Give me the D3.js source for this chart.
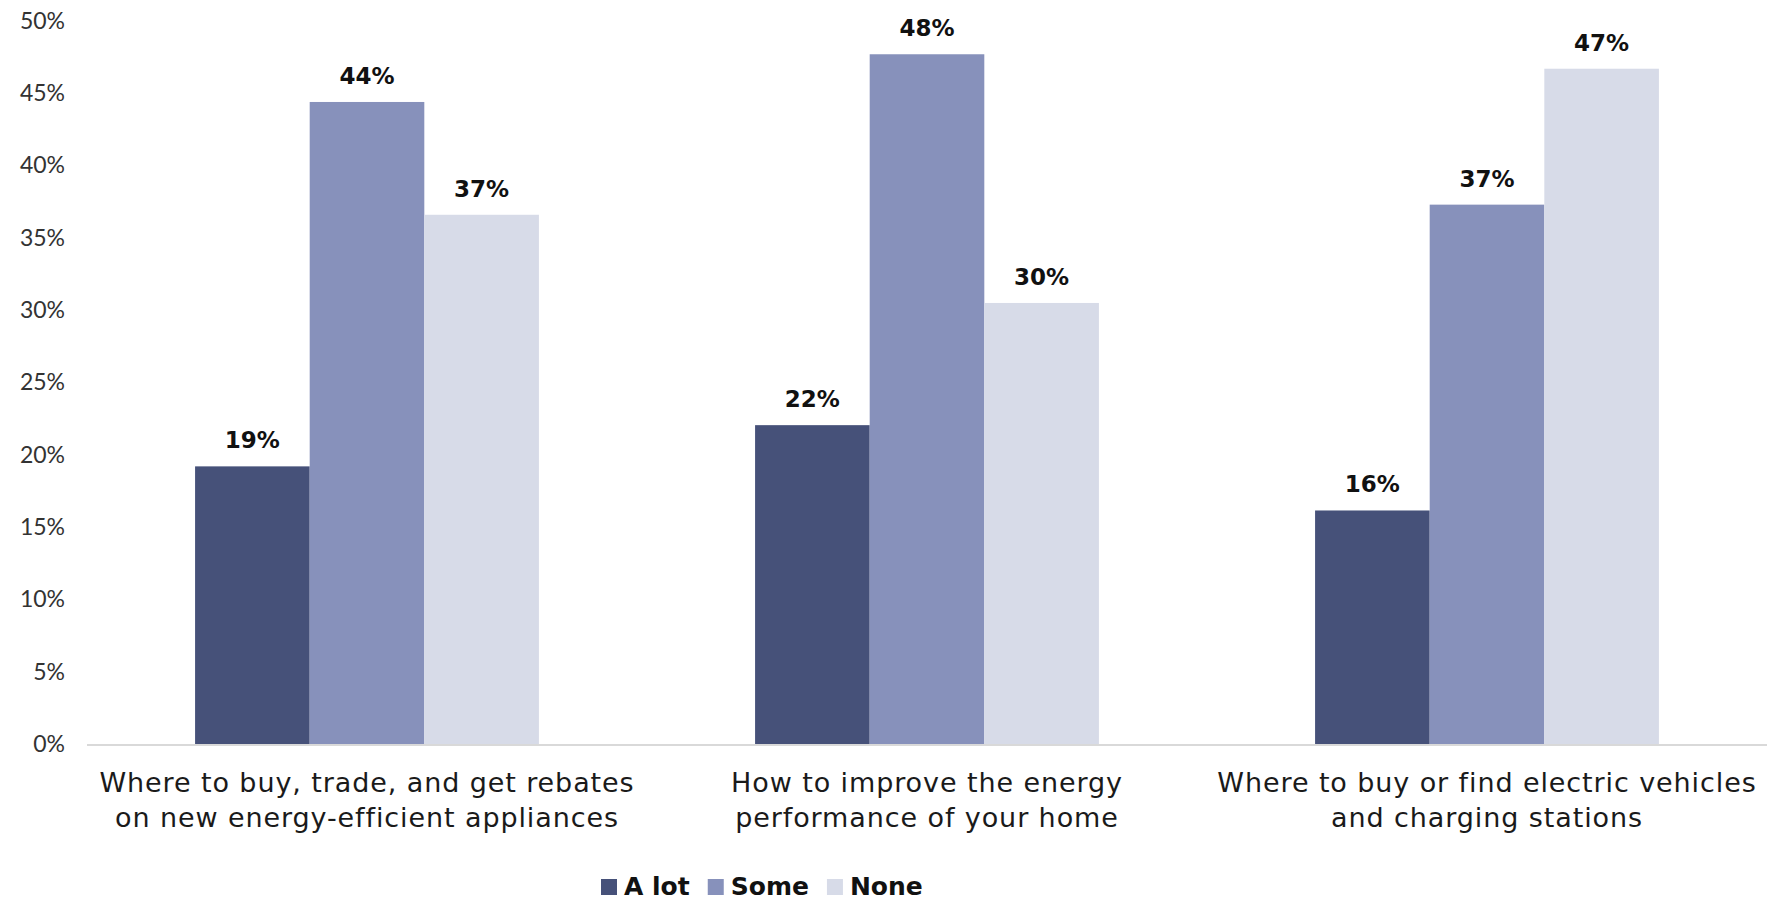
<!DOCTYPE html>
<html>
<head>
<meta charset="utf-8">
<script src="https://cdn.jsdelivr.net/npm/d3@7"></script>
<style>
    body { margin: 0; background: #fff; }
</style>
</head>
<body>
<div id="chart"></div>
<script>
const CATEGORIES = [
    ["Where to buy, trade, and get rebates", "on new energy-efficient appliances"],
    ["How to improve the energy", "performance of your home"],
    ["Where to buy or find electric vehicles", "and charging stations"]
];
const SERIES = ["A lot", "Some", "None"];
const A_LOT = [19.2, 22.05, 16.15];
const SOME = [44.4, 47.7, 37.3];
const NONE = [36.6, 30.5, 46.7];
const LABELS_A_LOT = ["19%", "22%", "16%"];
const LABELS_SOME = ["44%", "48%", "37%"];
const LABELS_NONE = ["37%", "30%", "47%"];
const Y_TICKS = [0, 5, 10, 15, 20, 25, 30, 35, 40, 45, 50];
const COLORS = ["#465179", "#8791bb", "#d7dbe8"];

const width = 1774;
const height = 903;
const margin = { top: 21, right: 7, bottom: 159, left: 87 };

const svg = d3.select("#chart").append("svg")
    .attr("width", width)
    .attr("height", height);

const data = CATEGORIES.map((c, i) => ({
    key: i,
    lines: c,
    values: [
        { series: SERIES[0], value: A_LOT[i], label: LABELS_A_LOT[i] },
        { series: SERIES[1], value: SOME[i], label: LABELS_SOME[i] },
        { series: SERIES[2], value: NONE[i], label: LABELS_NONE[i] }
    ]
}));

const x0 = d3.scaleBand()
    .domain(data.map(d => d.key))
    .range([margin.left, width - margin.right])
    .paddingInner(0.386)
    .paddingOuter(0.193);

const x1 = d3.scaleBand()
    .domain(SERIES)
    .range([0, x0.bandwidth()]);

const y = d3.scaleLinear()
    .domain([0, 50])
    .range([height - margin.bottom, margin.top]);

const color = d3.scaleOrdinal()
    .domain(SERIES)
    .range(COLORS);

// y axis, labels only
const yAxis = svg.append("g")
    .attr("transform", `translate(${margin.left}, 0)`)
    .call(d3.axisLeft(y).tickValues(Y_TICKS).tickFormat(d => d + "%").tickSize(0).tickPadding(22));
yAxis.select(".domain").remove();
yAxis.selectAll("text")
    .style("font-family", "Lato, sans-serif")
    .style("font-size", "23px")
    .attr("fill", "#333");

// bars
const groups = svg.selectAll(".group")
    .data(data)
    .enter()
    .append("g")
    .attr("class", "group")
    .attr("transform", d => `translate(${x0(d.key)}, 0)`);

groups.selectAll("rect")
    .data(d => d.values)
    .enter()
    .append("rect")
    .attr("x", d => x1(d.series))
    .attr("y", d => y(d.value))
    .attr("width", x1.bandwidth())
    .attr("height", d => y(0) - y(d.value))
    .attr("fill", d => color(d.series));

groups.selectAll(".val")
    .data(d => d.values)
    .enter()
    .append("text")
    .attr("class", "val")
    .attr("x", d => x1(d.series) + x1.bandwidth() / 2)
    .attr("y", d => y(d.value) - 18)
    .attr("text-anchor", "middle")
    .style("font-family", "'DejaVu Sans', sans-serif")
    .style("font-weight", "bold")
    .style("font-size", "23px")
    .attr("fill", "#111")
    .text(d => d.label);

// x axis line
svg.append("line")
    .attr("x1", margin.left)
    .attr("x2", width - margin.right)
    .attr("y1", y(0) + 1)
    .attr("y2", y(0) + 1)
    .attr("stroke", "#d9d9d9")
    .attr("stroke-width", 2);

// category labels
const catText = svg.selectAll(".cat")
    .data(data)
    .enter()
    .append("text")
    .attr("class", "cat")
    .attr("text-anchor", "middle")
    .style("font-family", "'DejaVu Sans', sans-serif")
    .style("font-size", "27px")
    .style("letter-spacing", "0.9px")
    .attr("fill", "#1a1a1a");

catText.selectAll("tspan")
    .data(d => d.lines.map(l => ({ l, cx: x0(d.key) + x0.bandwidth() / 2 })))
    .enter()
    .append("tspan")
    .attr("x", d => d.cx)
    .attr("y", (d, i) => y(0) + 48 + i * 35)
    .text(d => d.l);

// legend
const legend = svg.append("g")
    .attr("transform", "translate(601, 887)");

let lx = 0;
SERIES.forEach(s => {
    legend.append("rect")
        .attr("x", lx)
        .attr("y", -8)
        .attr("width", 16)
        .attr("height", 16)
        .attr("fill", color(s));
    const t = legend.append("text")
        .attr("x", lx + 23)
        .attr("y", 8)
        .style("font-family", "'DejaVu Sans', sans-serif")
        .style("font-weight", "bold")
        .style("font-size", "25px")
        .attr("fill", "#111")
        .text(s);
    lx += 23 + t.node().getComputedTextLength() + 18;
});
</script>
</body>
</html>
